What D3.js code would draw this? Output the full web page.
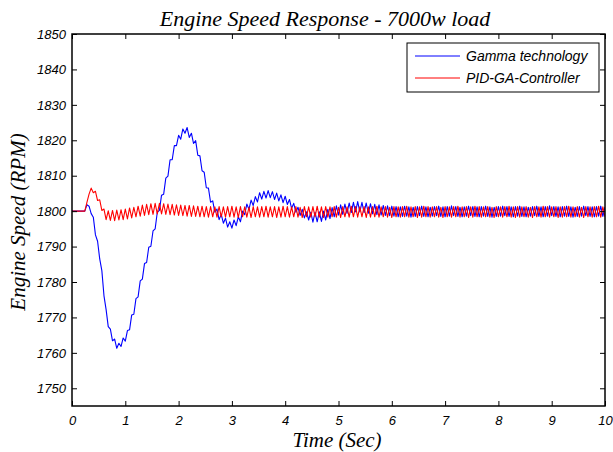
<!DOCTYPE html>
<html>
<head>
<meta charset="utf-8">
<script src="https://cdn.jsdelivr.net/npm/d3@7"></script>
<style>
  html, body { margin: 0; padding: 0; background: #fff; }
  svg { display: block; }
</style>
</head>
<body>
<svg id="chart" width="613" height="452"></svg>
<script>
// sample spacing of the two traces (seconds)
const timeStep = 0.04;

// Gamma technology
const gammaRpm = [
  1800, 1800, 1800, 1800, 1800, 1800, 1800, 1801.8, 1801.4, 1799.3,
  1798.3, 1793.3, 1791.5, 1786.5, 1783.2, 1776.1, 1772.2, 1767.4, 1766.7, 1763.4,
  1763.9, 1761.3, 1762.7, 1761.8, 1764.2, 1763.3, 1766.3, 1766.5, 1770.7, 1770.9,
  1775.3, 1775.8, 1780.3, 1780.8, 1785.2, 1785.5, 1789.8, 1790.1, 1794.4, 1795.0,
  1799.7, 1800.2, 1804.5, 1804.8, 1809.3, 1809.9, 1814.5, 1814.5, 1818.5, 1818.5,
  1821.4, 1820.3, 1823.2, 1822.0, 1823.6, 1820.8, 1822.0, 1819.1, 1819.9, 1815.8,
  1815.6, 1811.4, 1811.0, 1806.6, 1806.5, 1802.5, 1802.9, 1799.7, 1800.6, 1797.6,
  1799.1, 1796.6, 1798.0, 1795.5, 1797.0, 1795.2, 1797.5, 1795.9, 1798.4, 1797.0,
  1800.0, 1799.0, 1802.0, 1800.5, 1803.1, 1801.6, 1804.1, 1802.6, 1805.2, 1803.4,
  1805.6, 1803.7, 1805.8, 1803.8, 1805.5, 1803.3, 1805.1, 1802.9, 1804.6, 1802.4,
  1804.2, 1801.9, 1803.3, 1800.8, 1802.2, 1799.7, 1801.1, 1798.8, 1800.5, 1798.1,
  1799.8, 1797.5, 1799.7, 1796.9, 1799.7, 1797.0, 1799.8, 1797.1, 1800.0, 1797.5,
  1800.5, 1797.9, 1801.0, 1798.4, 1801.5, 1798.9, 1801.8, 1799.1, 1802.0, 1799.4,
  1802.3, 1799.6, 1802.5, 1799.8, 1802.7, 1799.8, 1802.5, 1799.6, 1802.3, 1799.4,
  1802.1, 1799.2, 1801.9, 1799.0, 1801.8, 1798.9, 1801.6, 1798.8, 1801.5, 1798.7,
  1801.4, 1798.6, 1801.3, 1798.4, 1801.2, 1798.5, 1801.4, 1798.6, 1801.2, 1798.3,
  1801.1, 1798.5, 1801.3, 1798.7, 1801.4, 1798.5, 1801.2, 1798.4, 1801.1, 1798.6,
  1801.3, 1798.7, 1801.4, 1798.5, 1801.2, 1798.4, 1801.3, 1798.6, 1801.5, 1798.7,
  1801.3, 1798.5, 1801.1, 1798.4, 1801.2, 1798.6, 1801.4, 1798.7, 1801.3, 1798.5,
  1801.2, 1798.4, 1801.3, 1798.6, 1801.4, 1798.5, 1801.2, 1798.3, 1801.1, 1798.5,
  1801.3, 1798.6, 1801.4, 1798.7, 1801.3, 1798.5, 1801.2, 1798.4, 1801.3, 1798.6,
  1801.4, 1798.5, 1801.2, 1798.4, 1801.1, 1798.6, 1801.3, 1798.7, 1801.4, 1798.5,
  1801.2, 1798.4, 1801.3, 1798.6, 1801.5, 1798.7, 1801.3, 1798.5, 1801.2, 1798.4,
  1801.3, 1798.6, 1801.4, 1798.5, 1801.2, 1798.3, 1801.1, 1798.5, 1801.3, 1798.6,
  1801.4, 1798.7, 1801.3, 1798.5, 1801.2, 1798.4, 1801.3, 1798.6, 1801.4, 1798.5,
  1801.2
];

// PID-GA-Controller
const pidRpm = [
  1800, 1800, 1800, 1800, 1800, 1800, 1800, 1802.5, 1804.8, 1806.5,
  1805.2, 1805.6, 1803.0, 1803.2, 1800.2, 1800.6, 1797.6, 1800.1, 1797.4, 1800.2,
  1797.3, 1800.3, 1797.5, 1800.4, 1797.6, 1800.6, 1797.8, 1800.9, 1798.1, 1801.1,
  1798.4, 1801.4, 1798.6, 1801.7, 1798.8, 1801.9, 1799.0, 1802.1, 1799.1, 1802.2,
  1799.2, 1802.2, 1799.2, 1802.1, 1799.1, 1802.0, 1799.0, 1801.9, 1798.9, 1801.8,
  1798.8, 1801.7, 1798.7, 1801.6, 1798.6, 1801.6, 1798.5, 1801.5, 1798.5, 1801.4,
  1798.4, 1801.4, 1798.4, 1801.3, 1798.3, 1801.3, 1798.4, 1801.2, 1798.3, 1801.3,
  1798.4, 1801.2, 1798.3, 1801.3, 1798.4, 1801.4, 1798.3, 1801.2, 1798.2, 1801.3,
  1798.4, 1801.2, 1798.3, 1801.1, 1798.2, 1801.3, 1798.4, 1801.2, 1798.3, 1801.3,
  1798.4, 1801.4, 1798.3, 1801.2, 1798.4, 1801.3, 1798.2, 1801.2, 1798.3, 1801.4,
  1798.4, 1801.3, 1798.3, 1801.2, 1798.4, 1801.3, 1798.3, 1801.1, 1798.2, 1801.3,
  1798.4, 1801.2, 1798.3, 1801.3, 1798.4, 1801.4, 1798.3, 1801.2, 1798.2, 1801.3,
  1798.3, 1801.2, 1798.4, 1801.3, 1798.3, 1801.1, 1798.2, 1801.3, 1798.4, 1801.2,
  1798.3, 1801.4, 1798.4, 1801.3, 1798.3, 1801.2, 1798.4, 1801.3, 1798.2, 1801.2,
  1798.3, 1801.3, 1798.4, 1801.4, 1798.3, 1801.2, 1798.4, 1801.3, 1798.3, 1801.1,
  1798.2, 1801.3, 1798.4, 1801.2, 1798.3, 1801.3, 1798.4, 1801.4, 1798.3, 1801.2,
  1798.4, 1801.3, 1798.2, 1801.2, 1798.3, 1801.4, 1798.4, 1801.3, 1798.3, 1801.2,
  1798.4, 1801.3, 1798.3, 1801.1, 1798.2, 1801.3, 1798.4, 1801.2, 1798.3, 1801.3,
  1798.4, 1801.4, 1798.3, 1801.2, 1798.4, 1801.3, 1798.2, 1801.2, 1798.3, 1801.4,
  1798.4, 1801.3, 1798.3, 1801.2, 1798.4, 1801.3, 1798.3, 1801.1, 1798.2, 1801.3,
  1798.4, 1801.2, 1798.3, 1801.3, 1798.4, 1801.4, 1798.3, 1801.2, 1798.2, 1801.3,
  1798.3, 1801.2, 1798.4, 1801.3, 1798.3, 1801.1, 1798.2, 1801.3, 1798.4, 1801.2,
  1798.3, 1801.4, 1798.4, 1801.3, 1798.3, 1801.2, 1798.4, 1801.3, 1798.2, 1801.2,
  1798.3, 1801.3, 1798.4, 1801.4, 1798.3, 1801.2, 1798.4, 1801.3, 1798.3, 1801.1,
  1798.2, 1801.3, 1798.4, 1801.2, 1798.3, 1801.3, 1798.4, 1801.4, 1798.3, 1801.2,
  1798.4
];

const seriesNames = ["Gamma technology", "PID-GA-Controller"];
const seriesColors = ["#0000ff", "#ff0000"];
const xTicks = [0, 1, 2, 3, 4, 5, 6, 7, 8, 9, 10];
const yTicks = [1750, 1760, 1770, 1780, 1790, 1800, 1810, 1820, 1830, 1840, 1850];

(function() {
  const SANS = "'Liberation Sans', Arial, sans-serif";
  const SERIF = "'Liberation Serif', 'Times New Roman', serif";

  const svg = d3.select("#chart");
  const left = 72, right = 605, top = 34, bottom = 406;

  const x = d3.scaleLinear().domain([0, 10]).range([left, right]);
  const y = d3.scaleLinear().domain([1745, 1850]).range([bottom, top]);

  svg.append("rect")
    .attr("width", 613).attr("height", 452)
    .attr("fill", "#fff");

  // traces
  const line = d3.line()
    .x((d, i) => x(i * timeStep))
    .y(d => y(d));

  svg.append("clipPath").attr("id", "plot-clip")
    .append("rect")
    .attr("x", left).attr("y", top)
    .attr("width", right - left).attr("height", bottom - top);

  const traces = svg.append("g").attr("clip-path", "url(#plot-clip)");
  [gammaRpm, pidRpm].forEach((vals, k) => {
    traces.append("path")
      .datum(vals)
      .attr("fill", "none")
      .attr("stroke", seriesColors[k])
      .attr("stroke-width", 1.1)
      .attr("stroke-linejoin", "round")
      .attr("d", line);
  });

  // axes, MATLAB style: ticks inward on all four sides
  const styleAxis = g => {
    g.select(".domain").remove();
    g.selectAll("line").attr("stroke", "#000").attr("stroke-width", 1);
    g.selectAll("text")
      .attr("font-family", SANS)
      .attr("font-size", 13)
      .attr("font-style", "italic")
      .attr("fill", "#000");
  };

  svg.append("g")
    .attr("transform", `translate(0,${bottom})`)
    .call(d3.axisBottom(x).tickValues(xTicks).tickSize(-5).tickPadding(10).tickFormat(d3.format("d")))
    .call(styleAxis);

  svg.append("g")
    .attr("transform", `translate(0,${top})`)
    .call(d3.axisTop(x).tickValues(xTicks).tickSize(-5).tickFormat(""))
    .call(styleAxis);

  svg.append("g")
    .attr("transform", `translate(${left},0)`)
    .call(d3.axisLeft(y).tickValues(yTicks).tickSize(-5).tickPadding(6).tickFormat(d3.format("d")))
    .call(styleAxis);

  svg.append("g")
    .attr("transform", `translate(${right},0)`)
    .call(d3.axisRight(y).tickValues(yTicks).tickSize(-5).tickFormat(""))
    .call(styleAxis);

  svg.append("rect")
    .attr("x", left).attr("y", top)
    .attr("width", right - left).attr("height", bottom - top)
    .attr("fill", "none")
    .attr("stroke", "#000")
    .attr("stroke-width", 1.5);

  // title and axis labels
  svg.append("text")
    .attr("x", 325).attr("y", 26)
    .attr("text-anchor", "middle")
    .attr("font-family", SERIF)
    .attr("font-style", "italic")
    .attr("font-size", 22)
    .text("Engine Speed Response - 7000w load");

  svg.append("text")
    .attr("x", 337).attr("y", 447)
    .attr("text-anchor", "middle")
    .attr("font-family", SERIF)
    .attr("font-style", "italic")
    .attr("font-size", 21)
    .text("Time (Sec)");

  svg.append("text")
    .attr("transform", `translate(25,222) rotate(-90)`)
    .attr("text-anchor", "middle")
    .attr("font-family", SERIF)
    .attr("font-style", "italic")
    .attr("font-size", 21)
    .text("Engine Speed (RPM)");

  // legend
  const legend = svg.append("g");
  legend.append("rect")
    .attr("x", 407).attr("y", 43)
    .attr("width", 192).attr("height", 49)
    .attr("fill", "#fff")
    .attr("stroke", "#000")
    .attr("stroke-width", 1);

  seriesNames.forEach((name, k) => {
    const ly = 56 + k * 22;
    legend.append("line")
      .attr("x1", 415).attr("x2", 460)
      .attr("y1", ly).attr("y2", ly)
      .attr("stroke", seriesColors[k])
      .attr("stroke-width", 1);
    legend.append("text")
      .attr("x", 466).attr("y", ly + 5)
      .attr("font-family", SANS)
      .attr("font-style", "italic")
      .attr("font-size", 14)
      .text(name);
  });
})();
</script>
</body>
</html>
